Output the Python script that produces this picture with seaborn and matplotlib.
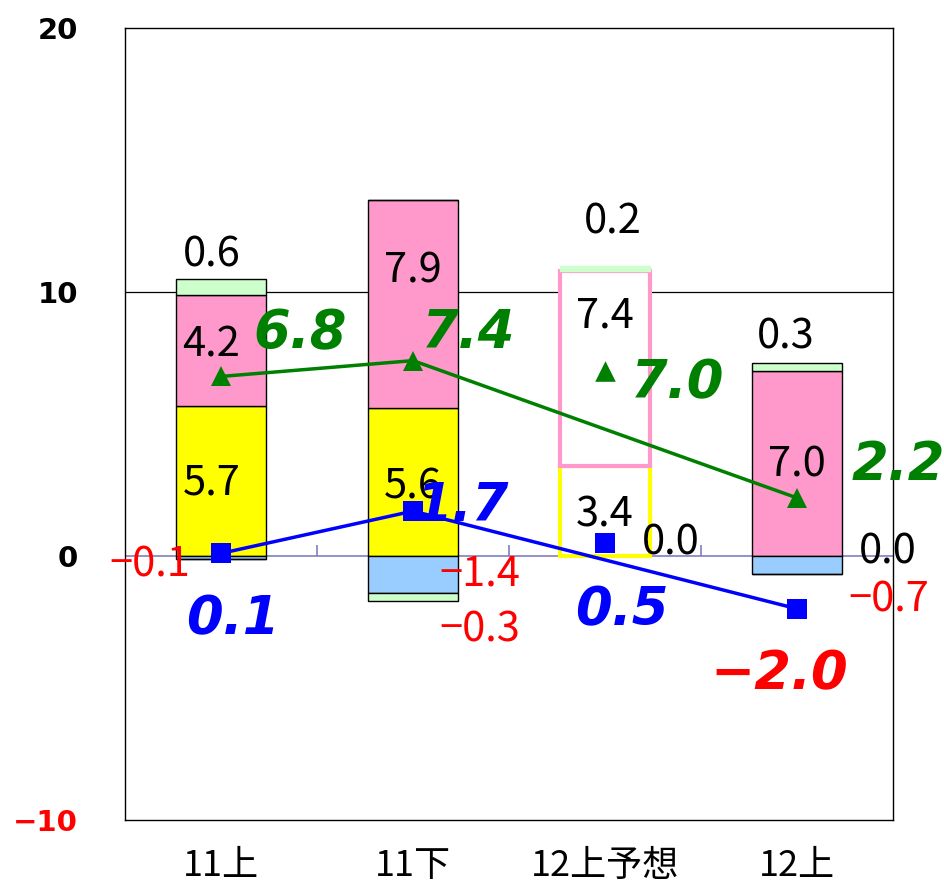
import numpy as np
import matplotlib
matplotlib.use('Agg')
import matplotlib.pyplot as plt
import seaborn as sns

# Data
categories = ['11上', '11下', '12上予想', '12上']
yellow = [5.7, 5.6, 3.4, 0.0]
pink = [4.2, 7.9, 7.4, 7.0]
green_top = [0.6, 0.0, 0.2, 0.3]
blue_neg = [-0.1, -1.4, 0.0, -0.7]
green_neg = [0.0, -0.3, 0.0, 0.0]
triangle = [6.8, 7.4, 7.0, 2.2]
square = [0.1, 1.7, 0.5, -2.0]
forecast = 2  # index of the forecast column (12上予想)

# Label placement (x, y in data units)
seg_labels = [
    ('yellow', 0, -0.05, 2.75), ('pink', 0, -0.05, 8.0), ('green_top', 0, -0.05, 11.4), ('blue_neg', 0, -0.37, -0.35),
    ('yellow', 1, 1.0, 2.6), ('pink', 1, 1.0, 10.8), ('blue_neg', 1, 1.35, -0.7), ('green_neg', 1, 1.35, -2.8),
    ('yellow', 2, 2.0, 1.55), ('pink', 2, 2.0, 9.1), ('green_top', 2, 2.04, 12.65), ('blue_neg', 2, 2.34, 0.5),
    ('yellow', 3, 3.47, 0.15), ('pink', 3, 3.0, 3.45), ('green_top', 3, 2.94, 8.3), ('blue_neg', 3, 3.48, -1.67),
]
tri_label_xy = [(0.41, 8.45), (1.29, 8.45), (2.38, 6.55), (3.53, 3.45)]
sq_label_xy = [(0.06, -2.4), (1.26, 1.9), (2.09, -2.05), (2.91, -4.5)]

series = {'yellow': yellow, 'pink': pink, 'green_top': green_top,
          'blue_neg': blue_neg, 'green_neg': green_neg}

sns.set_theme(style='white')
plt.rcParams['font.family'] = ['Noto Sans CJK JP', 'DejaVu Sans']
plt.rcParams['axes.unicode_minus'] = True

fig = plt.figure(figsize=(9.45, 8.91), dpi=100)
ax = fig.add_axes([0.1323, 0.0797, 0.8127, 0.8889])

zero_color = '#7f7fbf'
ax.axhline(10, color='black', lw=0.9, zorder=0.5)
ax.axhline(0, color=zero_color, lw=1.2, zorder=0.6)
ax.vlines([0.5, 1.5, 2.5], 0, 0.4, color=zero_color, lw=1.2, zorder=0.6)

# stacked bars
bottoms = {
    'yellow': np.zeros(4),
    'pink': np.array(yellow),
    'green_top': np.array(yellow) + np.array(pink),
    'blue_neg': np.zeros(4),
    'green_neg': np.array(blue_neg),
}
colors = {'yellow': '#ffff00', 'pink': '#ff99cc', 'green_top': '#ccffcc',
          'blue_neg': '#99ccff', 'green_neg': '#ccffcc'}

for name in ['yellow', 'pink', 'green_top', 'blue_neg', 'green_neg']:
    n0 = len(ax.patches)
    sns.barplot(x=categories, y=series[name], bottom=bottoms[name],
                color=colors[name], saturation=1, width=0.47,
                edgecolor='black', linewidth=1, ax=ax, zorder=2)
    bars = ax.patches[n0:]
    fb = bars[forecast]
    if name in ('yellow', 'pink'):
        fb.set_facecolor('white')
        fb.set_edgecolor(colors[name])
        fb.set_linewidth(3)
    elif name == 'green_top':
        fb.set_edgecolor(colors[name])
    else:
        fb.set_visible(False)

# trend lines (forecast point is shown on its own)
idx = [i for i in range(4) if i != forecast]
sns.lineplot(x=idx, y=[triangle[i] for i in idx], color='#008000', lw=2.5,
             marker='^', markersize=15, markeredgewidth=0, ax=ax, zorder=4)
sns.lineplot(x=idx, y=[square[i] for i in idx], color='#0000ff', lw=2.5,
             marker='s', markersize=14, markeredgewidth=0, ax=ax, zorder=4)
sns.scatterplot(x=[forecast], y=[triangle[forecast]], color='#008000', marker='^',
                s=220, linewidth=0, ax=ax, zorder=4)
sns.scatterplot(x=[forecast], y=[square[forecast]], color='#0000ff', marker='s',
                s=200, linewidth=0, ax=ax, zorder=4)


def fmt(v):
    return f'{v:.1f}'.replace('-', '\u2212')


for name, i, x, y in seg_labels:
    v = series[name][i]
    ax.text(x, y, fmt(v), ha='center', va='center', fontsize=30,
            color='red' if v < 0 else 'black', zorder=6)

for v, (x, y) in zip(triangle, tri_label_xy):
    ax.text(x, y, fmt(v), ha='center', va='center', fontsize=38, color='#008000',
            family='DejaVu Sans', weight='heavy', style='italic', zorder=6)
for v, (x, y) in zip(square, sq_label_xy):
    ax.text(x, y, fmt(v), ha='center', va='center', fontsize=38,
            color='red' if v < 0 else '#0000ff',
            family='DejaVu Sans', weight='heavy', style='italic', zorder=6)

ax.set_xlim(-0.5, 3.5)
ax.set_ylim(-10, 20)
ax.set_yticks([-10, 0, 10, 20])
ax.set_yticklabels(['\u221210', '0', '10', '20'], fontsize=21, weight='bold',
                   family='DejaVu Sans', color='black')
ax.get_yticklabels()[0].set_color('red')
ax.set_xticks(range(4))
ax.set_xticklabels(categories, fontsize=26, color='black')
ax.tick_params(axis='y', length=0, pad=34)
ax.tick_params(axis='x', length=0, pad=20)
ax.set_xlabel('')
ax.set_ylabel('')
for sp in ax.spines.values():
    sp.set_visible(True)
    sp.set_color('black')
    sp.set_linewidth(1)

fig.savefig('out.png', dpi=100)
